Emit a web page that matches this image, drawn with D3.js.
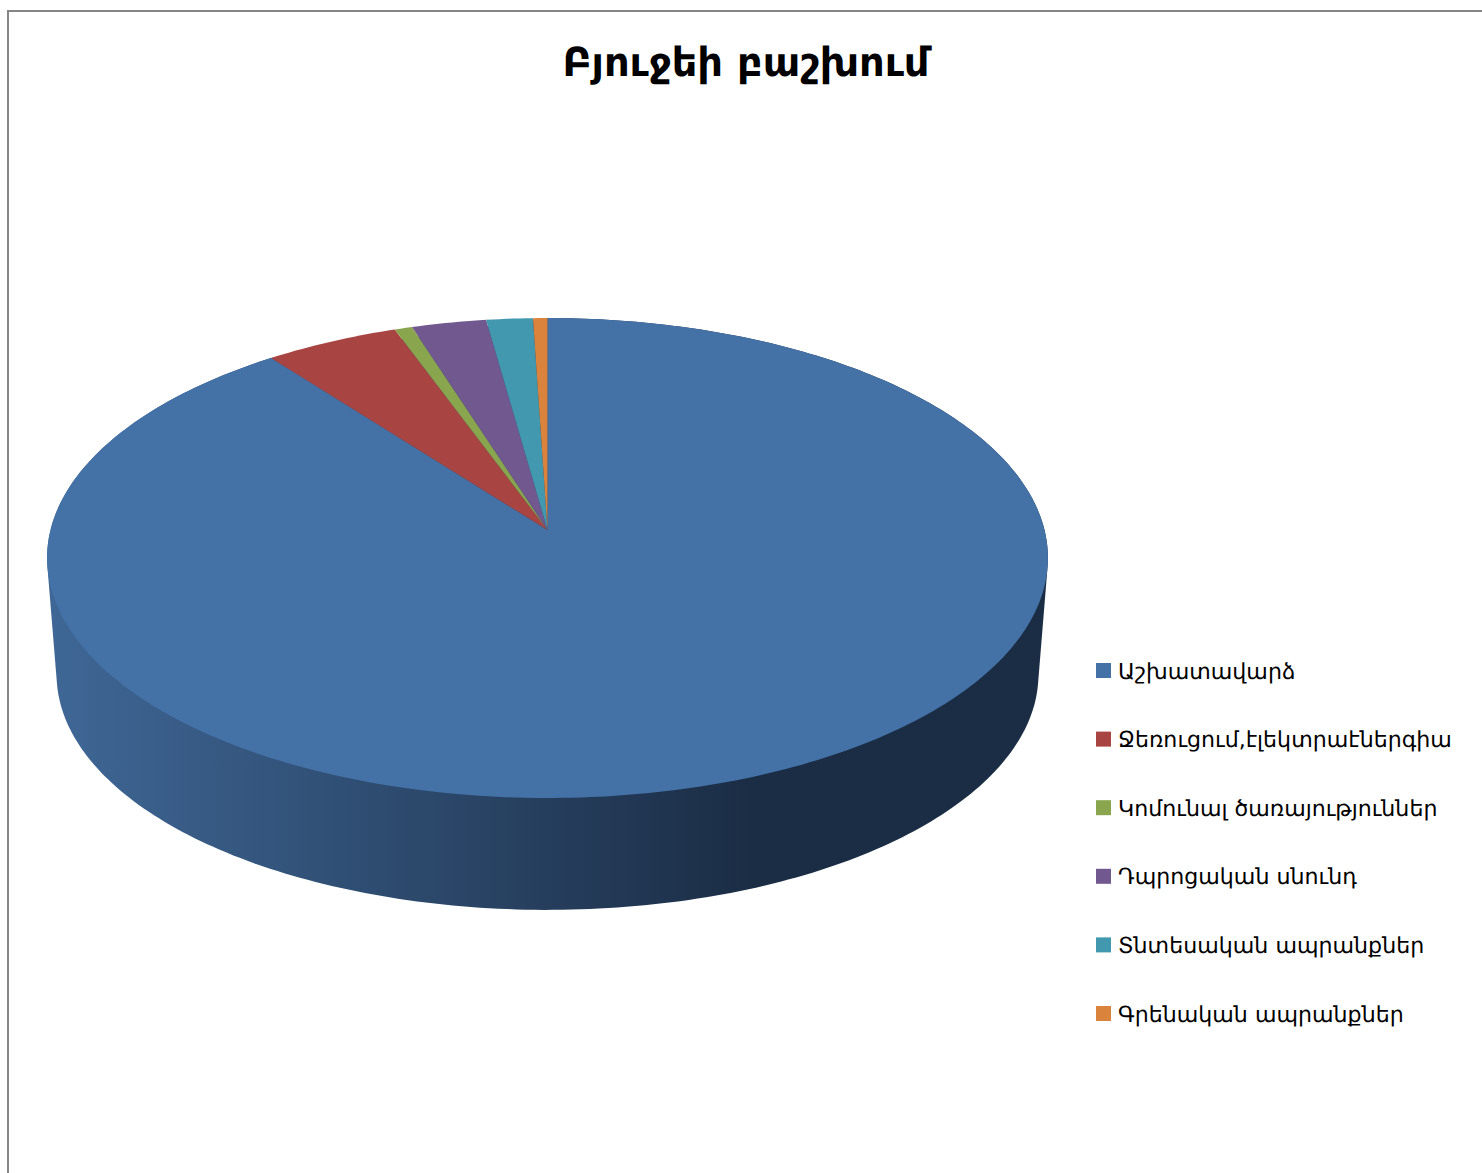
<!DOCTYPE html>
<html>
<head>
<meta charset="utf-8">
<script src="https://cdnjs.cloudflare.com/ajax/libs/d3/7.8.5/d3.min.js"></script>
<style>
    html, body { margin: 0; padding: 0; background: #fff; }
    svg { display: block; }
    text { font-family: "DejaVu Sans", sans-serif; fill: #000; text-rendering: geometricPrecision; }
</style>
</head>
<body>
<div id="chart"></div>
<script>
// values, share of the budget in percent
let title = "Բյուջեի բաշխում";
let categories = ["Աշխատավարձ", "Ջեռուցում,էլեկտրաէներգիա", "Կոմունալ ծառայություններ", "Դպրոցական սնունդ", "Տնտեսական ապրանքներ", "Գրենական ապրանքներ"];
let shares = [89.6, 4.86, 0.64, 2.7, 1.68, 0.52];
let colors = ["#4471a6", "#a84543", "#89a54e", "#71588f", "#4198af", "#d9833d"];

let width = 1482, height = 1173;

let svg = d3.select("#chart").append("svg")
    .attr("width", width)
    .attr("height", height)
    .attr("viewBox", "0 0 " + width + " " + height);

// chart frame, only top and left edge are inside the crop
svg.append("path")
    .attr("d", "M8," + height + "V11H" + width)
    .attr("fill", "none")
    .attr("stroke", "#868686")
    .attr("stroke-width", 2);

svg.append("text")
    .attr("x", 746)
    .attr("y", 76)
    .attr("text-anchor", "middle")
    .style("font-size", "40px")
    .style("font-weight", "bold")
    .text(title);

// the 3d pie: a unit circle tilted with perspective, near edge gets bigger
let cx = 547.5, pivotY = 530;
let radiusX = 497, radiusY = 236.7, persp = -0.1167;
let depthShift = 117, depthScale = 0.981;

function project(angle, depth) {
    let u = Math.sin(angle), v = -Math.cos(angle);
    let w = 1 + persp * v;
    let s = depth ? depthScale : 1;
    let y0 = depth ? pivotY + depthShift : pivotY;
    return [cx + radiusX * s * u / w, y0 + radiusY * s * v / w];
}

function arcPoints(d, depth) {
    let n = Math.max(2, Math.ceil((d.endAngle - d.startAngle) * 60));
    let angle = d3.scaleLinear().domain([0, n]).range([d.startAngle, d.endAngle]);
    return d3.range(n + 1).map(function(i) { return project(angle(i), depth); });
}

let pie = d3.pie().sort(null).value(function(d) { return d; });
let slices = pie(shares);

let defs = svg.append("defs");
let wallGradient = defs.append("linearGradient")
    .attr("id", "wall")
    .attr("gradientUnits", "userSpaceOnUse")
    .attr("x1", 50).attr("x2", 1040)
    .attr("y1", 0).attr("y2", 0);
wallGradient.append("stop").attr("offset", "0").attr("stop-color", "#3f6796");
wallGradient.append("stop").attr("offset", "0.71").attr("stop-color", "#1b2d45");
wallGradient.append("stop").attr("offset", "1").attr("stop-color", "#1b2d45");

// side wall, only the big slice reaches the front of the pie
let line = d3.line();
svg.selectAll(".wall")
    .data(slices.filter(function(d) { return d.endAngle - d.startAngle > Math.PI; }))
    .join("path")
    .attr("class", "wall")
    .attr("fill", "url(#wall)")
    .attr("d", function(d) {
        let hull = d3.polygonHull(arcPoints(d, false).concat(arcPoints(d, true)));
        return line(hull) + "Z";
    });

// top face
svg.selectAll(".slice")
    .data(slices)
    .join("path")
    .attr("class", "slice")
    .attr("fill", function(d, i) { return colors[i]; })
    .attr("d", function(d) {
        return line([[cx, pivotY]].concat(arcPoints(d, false))) + "Z";
    });

// legend
let legendY = d3.scalePoint().domain(categories).range([670.5, 1013.5]);

let legend = svg.selectAll(".legend")
    .data(categories)
    .join("g")
    .attr("class", "legend")
    .attr("transform", function(d) { return "translate(1096," + legendY(d) + ")"; });

legend.append("rect")
    .attr("y", -7.5)
    .attr("width", 15)
    .attr("height", 15)
    .attr("fill", function(d, i) { return colors[i]; });

legend.append("text")
    .attr("x", 22)
    .attr("y", 8)
    .style("font-size", "22.13px")
    .text(function(d) { return d; });
</script>
</body>
</html>
